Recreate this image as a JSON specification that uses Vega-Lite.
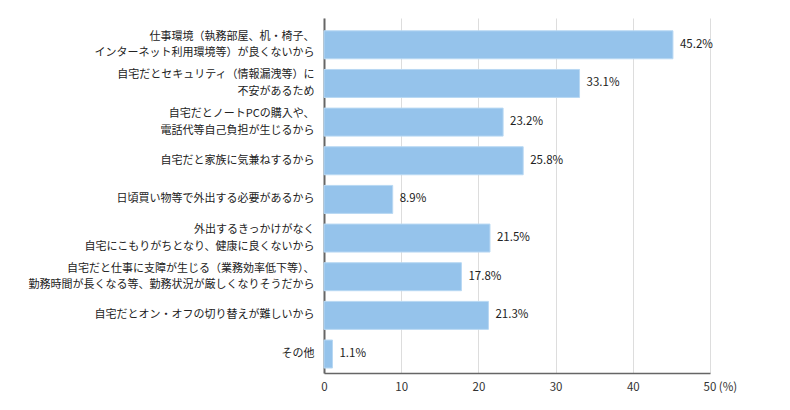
{
  "$schema": "https://vega.github.io/schema/vega-lite/v6.json",
  "autosize": {"type": "none"},
  "padding": {"left": 324, "top": 18, "right": 80, "bottom": 37},
  "width": 386,
  "height": 355,
  "background": "white",
  "data": {
    "values": [
      {"reason": "仕事環境（執務部屋、机・椅子、\nインターネット利用環境等）が良くないから", "pct": 45.2},
      {"reason": "自宅だとセキュリティ（情報漏洩等）に\n不安があるため", "pct": 33.1},
      {"reason": "自宅だとノートPCの購入や、\n電話代等自己負担が生じるから", "pct": 23.2},
      {"reason": "自宅だと家族に気兼ねするから", "pct": 25.8},
      {"reason": "日頃買い物等で外出する必要があるから", "pct": 8.9},
      {"reason": "外出するきっかけがなく\n自宅にこもりがちとなり、健康に良くないから", "pct": 21.5},
      {"reason": "自宅だと仕事に支障が生じる（業務効率低下等）、\n勤務時間が長くなる等、勤務状況が厳しくなりそうだから", "pct": 17.8},
      {"reason": "自宅だとオン・オフの切り替えが難しいから", "pct": 21.3},
      {"reason": "その他", "pct": 1.1}
    ]
  },
  "encoding": {
    "y": {
      "field": "reason",
      "type": "nominal",
      "sort": null,
      "title": null,
      "scale": {"paddingInner": 0.276, "paddingOuter": 0.23, "align": 0.72},
      "axis": {
        "labelExpr": "split(datum.label, '\\n')",
        "labelOffset": {"expr": "indexof(datum.value, '\\n') >= 0 ? -8 : 0"},
        "labelFont": "Noto Sans CJK JP",
        "labelFontSize": 11,
        "labelLineHeight": 16.5,
        "labelColor": "#222",
        "labelPadding": 10,
        "labelLimit": 400,
        "ticks": false,
        "domainColor": "#666",
        "domainWidth": 2,
        "grid": false
      }
    },
    "x": {
      "field": "pct",
      "type": "quantitative",
      "title": null,
      "scale": {"domain": [0, 50]},
      "axis": {
        "values": [0, 10, 20, 30, 40, 50],
        "labelExpr": "datum.value == 50 ? '50 (%)' : datum.label",
        "labelAlign": {"expr": "datum.value == 50 ? 'left' : 'center'"},
        "labelOffset": {"expr": "datum.value == 50 ? -7 : 0"},
        "labelFont": "Noto Sans CJK JP",
        "labelFontSize": 11.5,
        "labelColor": "#333",
        "labelPadding": 8,
        "ticks": false,
        "domainColor": "#666",
        "domainWidth": 1.5,
        "gridColor": "#dddddd",
        "gridWidth": 1
      }
    }
  },
  "layer": [
    {
      "mark": {"type": "bar", "color": "#95C3EB", "stroke": "#b8d8f3", "strokeWidth": 1}
    },
    {
      "mark": {
        "type": "text",
        "align": "left",
        "baseline": "middle",
        "dx": 7,
        "font": "Noto Sans CJK JP",
        "fontSize": 11.5,
        "color": "#222",
        "text": {"expr": "format(datum.pct, '.1f') + '%'"}
      },
      "encoding": {
        "x": {"field": "pct", "type": "quantitative"}
      }
    }
  ],
  "config": {"view": {"stroke": null}}
}
